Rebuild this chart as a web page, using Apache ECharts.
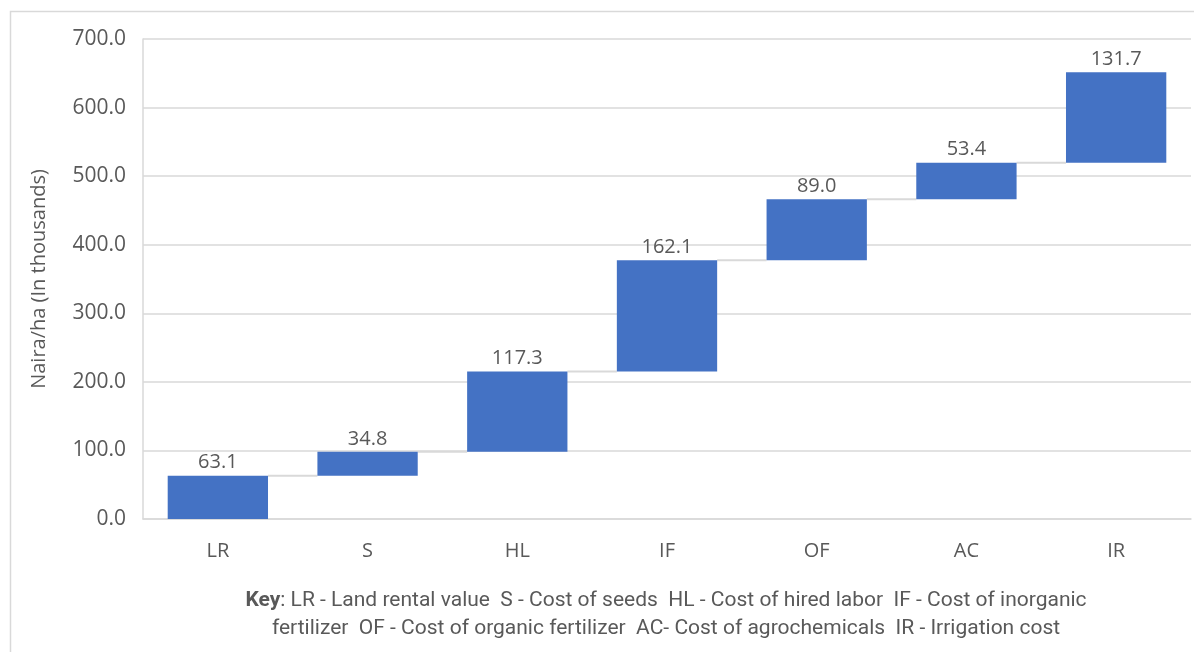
<!DOCTYPE html>
<html>
<head>
<meta charset="utf-8">
<script src="https://cdn.jsdelivr.net/npm/echarts@6/dist/echarts.min.js"></script>
<style>
  html, body { margin: 0; padding: 0; background: #fff; }
  #chart { width: 1194px; height: 652px; }
</style>
</head>
<body>
<div id="chart"></div>
<script>
// Production cost components (Naira/ha, in thousands)
const categories = ['LR', 'S', 'HL', 'IF', 'OF', 'AC', 'IR'];
const costs = [63.1, 34.8, 117.3, 162.1, 89.0, 53.4, 131.7];
const yTicks = { min: 0, max: 700, interval: 100 };
const keyLine1 = 'LR - Land rental value  S - Cost of seeds  HL - Cost of hired labor  IF - Cost of inorganic';
const keyLine2 = 'fertilizer  OF - Cost of organic fertilizer  AC- Cost of agrochemicals  IR - Irrigation cost';

// Running totals: invisible base under each floating bar, and the level each step ends at
const bases = [];
const tops = [];
let running = 0;
costs.forEach(v => { bases.push(running); running += v; tops.push(running); });

const BAR_FRAC = 0.67;
const textColor = '#595959';
const font = 'Open Sans';
const keyFont = 'Roboto';

const chart = echarts.init(document.getElementById('chart'), null, { renderer: 'canvas' });
chart.setOption({
  animation: false,
  backgroundColor: '#ffffff',
  grid: { left: 143, right: 3, top: 39, bottom: 133, containLabel: false },
  xAxis: {
    type: 'category',
    data: categories,
    axisLine: { show: true, lineStyle: { color: '#d9d9d9', width: 1.5 } },
    axisTick: { show: false },
    axisLabel: { color: textColor, fontSize: 20, fontFamily: font, margin: 22 }
  },
  yAxis: {
    type: 'value',
    min: yTicks.min, max: yTicks.max, interval: yTicks.interval,
    name: 'Naira/ha (In thousands)',
    nameLocation: 'middle',
    nameGap: 94,
    nameTextStyle: { color: textColor, fontSize: 20, fontFamily: font },
    axisLine: { show: true, lineStyle: { color: '#d9d9d9', width: 1.5 } },
    axisTick: { show: false },
    splitLine: { lineStyle: { color: '#d9d9d9', width: 1.5 } },
    axisLabel: { color: textColor, fontSize: 21, fontFamily: font, margin: 17,
                 formatter: v => v.toFixed(1) }
  },
  series: [
    {
      type: 'bar', stack: 'w', data: bases, barWidth: (BAR_FRAC * 100) + '%',
      itemStyle: { color: 'transparent' }, silent: true
    },
    {
      type: 'bar', stack: 'w', data: costs, barWidth: (BAR_FRAC * 100) + '%',
      itemStyle: { color: '#4472C4' },
      label: {
        show: true, position: 'top', distance: 3,
        color: textColor, fontSize: 20, fontFamily: font,
        formatter: p => p.value.toFixed(1)
      }
    },
    {
      // connector lines from the top of each step to the next bar
      type: 'custom',
      data: tops.slice(0, -1).map((t, i) => [i, t]),
      z: 1,
      renderItem: (params, api) => {
        const i = api.value(0);
        const p = api.coord([i, api.value(1)]);
        const bw = api.size([1, 0])[0];
        const x1 = p[0] + bw * BAR_FRAC / 2;
        const x2 = p[0] + bw - bw * BAR_FRAC / 2;
        return {
          type: 'line',
          shape: { x1: x1, y1: p[1], x2: x2, y2: p[1] },
          style: { stroke: '#d9d9d9', lineWidth: 2 }
        };
      }
    }
  ],
  graphic: [
    {
      type: 'rect', left: 8, top: 9, z: -10,
      shape: { width: 1200, height: 660 },
      style: { fill: 'none', stroke: '#d9d9d9', lineWidth: 1.5 }
    },
    {
      type: 'text', x: 666, y: 587, z: 10,
      style: {
        text: '{b|Key}: ' + keyLine1 + '\n' + keyLine2,
        textAlign: 'center',
        fill: textColor,
        fontSize: 21,
        fontFamily: keyFont,
        lineHeight: 28,
        rich: {
          b: { fontWeight: 'bold', fill: textColor, fontSize: 21, fontFamily: keyFont }
        }
      }
    }
  ]
});
</script>
</body>
</html>
